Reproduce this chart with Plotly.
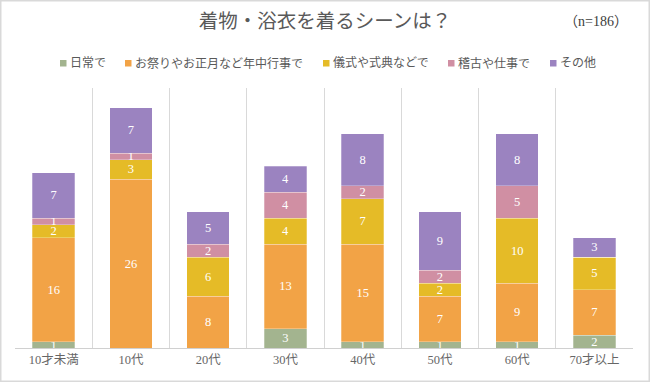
import plotly.graph_objects as go

categories = ["10才未満", "10代", "20代", "30代", "40代", "50代", "60代", "70才以上"]
series_names = ["日常で", "お祭りやお正月など年中行事で", "儀式や式典などで", "稽古や仕事で", "その他"]
daily = [1, 0, 0, 3, 1, 1, 1, 2]
festival = [16, 26, 8, 13, 15, 7, 9, 7]
ceremony = [2, 3, 6, 4, 7, 2, 10, 5]
lesson = [1, 1, 2, 4, 2, 2, 5, 0]
other = [7, 7, 5, 4, 8, 9, 8, 3]
title_text = "着物・浴衣を着るシーンは？"
n_text = "（n=186）"

colors = ["#A3B48F", "#F2A346", "#E5BB27", "#D08FA3", "#9B83C0"]
values = [daily, festival, ceremony, lesson, other]

FONT = "Liberation Serif, Noto Sans CJK JP"
W, H = 650, 382
ML, MR, MT, MB = 15, 17, 88, 34
PW, PH = W - ML - MR, H - MT - MB


def px_x(px):
    return (px - ML) / PW


def px_y(py):
    return (H - MB - py) / PH


fig = go.Figure()
for name, vals, col in zip(series_names, values, colors):
    fig.add_trace(go.Bar(
        x=categories, y=vals, name=name, showlegend=False,
        marker=dict(color=col, line=dict(width=0.6, color="rgba(255,255,255,0.45)")),
        text=[str(v) if v else "" for v in vals],
        textposition="inside", insidetextanchor="middle", textangle=0,
        textfont=dict(color="white", size=12.5, family=FONT),
        hoverinfo="skip",
    ))

fig.update_layout(
    barmode="stack",
    bargap=0.45,
    width=W, height=H,
    margin=dict(l=ML, r=MR, t=MT, b=MB, autoexpand=False),
    paper_bgcolor="white", plot_bgcolor="white",
    uniformtext=dict(minsize=12.5, mode="show"),
    font=dict(family=FONT, color="#595959"),
    title=dict(text=title_text, x=0.5, xanchor="center", y=1 - 21 / H, yanchor="middle",
               font=dict(size=19.5, color="#595959", family=FONT)),
    showlegend=False,
)
fig.update_xaxes(
    type="category", tickson="boundaries", showgrid=True, gridcolor="#D9D9D9", gridwidth=1,
    showline=True, linecolor="#D0D0D0", linewidth=1, ticks="",
    tickfont=dict(size=12.5, color="#666666", family=FONT),
)
fig.update_yaxes(range=[0, 40], showgrid=False, showticklabels=False, zeroline=False, showline=False)

# (n=186)
fig.add_annotation(text=n_text, xref="paper", yref="paper", x=px_x(630), y=px_y(21),
                   xanchor="right", yanchor="middle", showarrow=False,
                   font=dict(size=14, color="#404040", family=FONT))

# legend (markers + labels)
marker_px = [60, 125, 323, 448, 550]
for name, col, mx in zip(series_names, colors, marker_px):
    fig.add_shape(type="rect", xref="paper", yref="paper",
                  x0=px_x(mx), x1=px_x(mx + 6.5), y0=px_y(66.5), y1=px_y(60),
                  line=dict(width=0), fillcolor=col)
    fig.add_annotation(text=name, xref="paper", yref="paper", x=px_x(mx + 8), y=px_y(63.5),
                       xanchor="left", yanchor="middle", showarrow=False,
                       font=dict(size=12, color="#595959", family=FONT))

# outer frame
fig.add_shape(type="rect", xref="paper", yref="paper",
              x0=px_x(0.75), x1=px_x(W - 0.75), y0=px_y(H - 0.75), y1=px_y(0.75),
              line=dict(color="#D9D9D9", width=1.5), fillcolor="rgba(0,0,0,0)")

fig.write_html("out.html", config={"displayModeBar": False},
               post_script="document.body.style.margin='0px';document.body.style.overflow='hidden';")
